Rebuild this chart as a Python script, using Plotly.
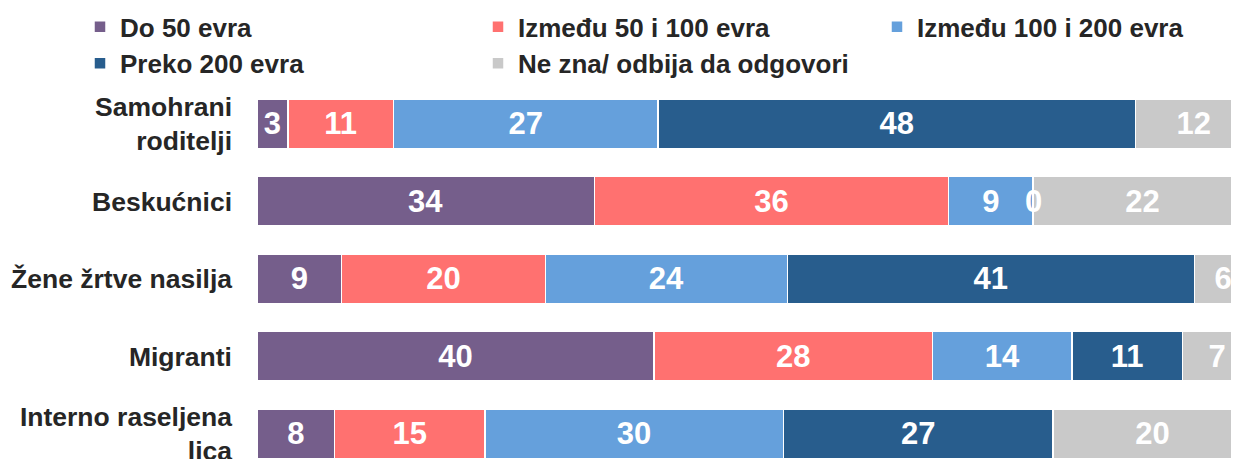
import plotly.graph_objects as go

categories = ["Samohrani<br>roditelji", "Beskućnici", "Žene žrtve nasilja", "Migranti", "Interno raseljena<br>lica"]
series_names = ["Do 50 evra", "Između 50 i 100 evra", "Između 100 i 200 evra", "Preko 200 evra", "Ne zna/ odbija da odgovori"]

do_50 = [3.1, 33.9, 8.5, 39.9, 7.8]
od_50_do_100 = [10.6, 35.6, 20.5, 28.0, 15.1]
od_100_do_200 = [26.6, 8.5, 24.3, 14.0, 30.0]
preko_200 = [48.0, 0.0, 40.9, 11.1, 27.1]
ne_zna = [11.7, 22.0, 5.8, 7.0, 20.0]

do_50_labels = ["3", "34", "9", "40", "8"]
od_50_do_100_labels = ["11", "36", "20", "28", "15"]
od_100_do_200_labels = ["27", "9", "24", "14", "30"]
preko_200_labels = ["48", "0", "41", "11", "27"]
ne_zna_labels = ["12", "22", "6", "7", "20"]

colors = ["#755E8B", "#FF7170", "#65A0DC", "#285D8D", "#C9C9C9"]

series_values = [do_50, od_50_do_100, od_100_do_200, preko_200, ne_zna]
series_labels = [do_50_labels, od_50_do_100_labels, od_100_do_200_labels, preko_200_labels, ne_zna_labels]

FONT = "Arial, 'Liberation Sans', sans-serif"
OFF = 8  # page body margin
W, H = 1239 - OFF, 459 - OFF
ML, MT = 257 - OFF, 85 - OFF
PW, PH = W - ML, H - MT

fig = go.Figure()
annotations = []
base = [0.0] * len(categories)
legend_ids = ["legend", "legend2", "legend3", "legend4", "legend5"]
for i, (name, vals, labs) in enumerate(zip(series_names, series_values, series_labels)):
    texts = [lab if v > 0 else "" for v, lab in zip(vals, labs)]
    fig.add_trace(go.Bar(
        y=categories, x=vals, name=name, orientation="h",
        marker=dict(color=colors[i], line=dict(color="white", width=1.5)),
        text=texts, textposition="inside", insidetextanchor="middle", textangle=0,
        textfont=dict(family=FONT, size=31, color="white", weight="bold"),
        constraintext="none",
        legend=legend_ids[i],
    ))
    for j, (v, lab) in enumerate(zip(vals, labs)):
        if v <= 0:
            annotations.append(dict(
                x=base[j] + v / 2, y=categories[j], xref="x", yref="y",
                text=lab, showarrow=False,
                font=dict(family=FONT, size=31, color="white", weight="bold"),
            ))
    base = [b + v for b, v in zip(base, vals)]

# legend positions (left px, top px in the final picture) converted to paper coordinates
legend_pos = [(80, 3.3), (478, 3.3), (877, 3.3), (80, 39.8), (478, 39.8)]
legend_layout = {}
for lid, (lx, ly) in zip(legend_ids, legend_pos):
    legend_layout[lid] = dict(
        x=(lx - OFF - ML) / PW, y=1 + (MT - (ly - OFF)) / PH, xref="paper", yref="paper",
        xanchor="left", yanchor="top", bgcolor="rgba(0,0,0,0)",
        font=dict(family=FONT, size=26, color="#262626", weight="bold"),
        orientation="v",
    )

fig.update_layout(
    template="none",
    width=W, height=H,
    barmode="stack", bargap=0.364,
    margin=dict(l=ML, r=0, t=MT, b=0, pad=0, autoexpand=False),
    paper_bgcolor="white", plot_bgcolor="white",
    xaxis=dict(visible=False, range=[0, PW / 9.95], automargin=False),
    yaxis=dict(
        type="category", range=[-0.5 + PH / 77.5, -0.5], showgrid=False, zeroline=False, showline=False,
        ticks="", ticklabelstandoff=24, automargin=False,
        tickfont=dict(family=FONT, size=26.5, color="#262626", weight="bold"),
    ),
    annotations=annotations,
    showlegend=True,
    **legend_layout,
)

fig.write_html("out.html")
